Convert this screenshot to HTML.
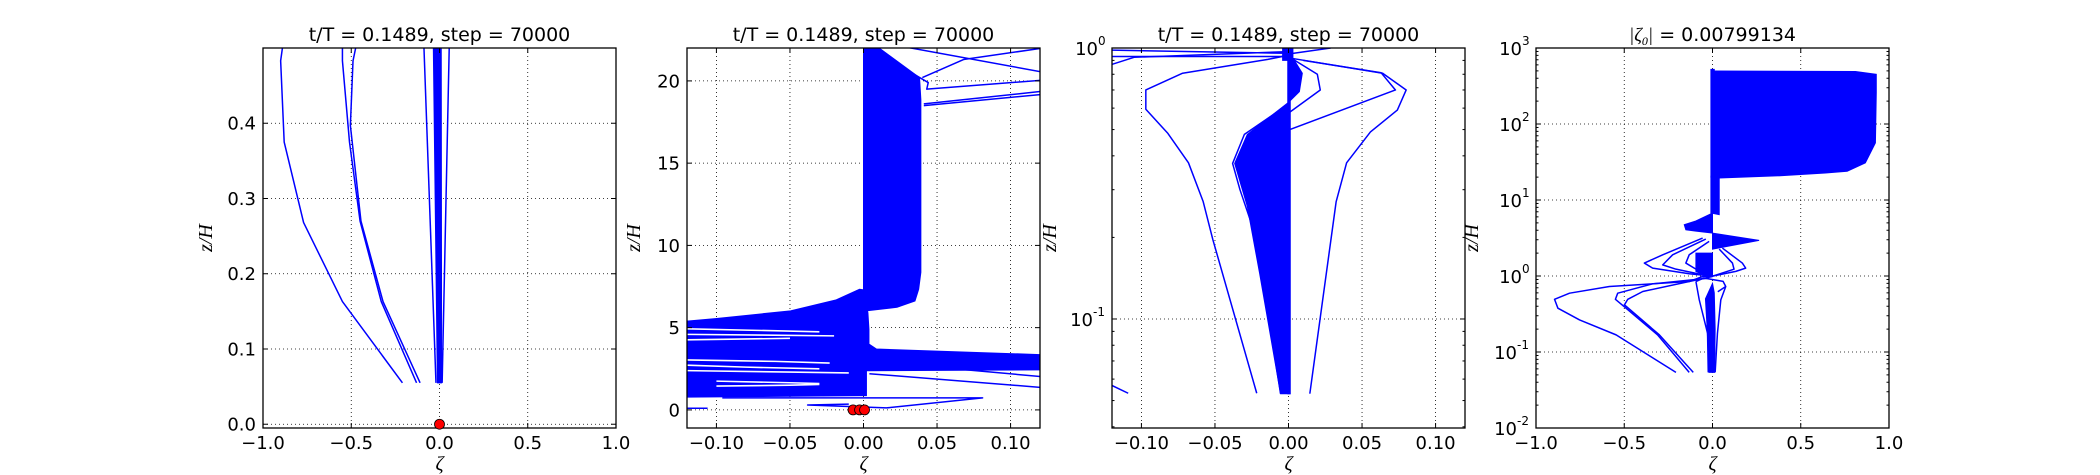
<!DOCTYPE html>
<html><head><meta charset="utf-8"><style>
html,body{margin:0;padding:0;background:#fff;}
svg{display:block;}
text{font-family:"DejaVu Sans","Liberation Sans",sans-serif;fill:#000;}
.ser{font-family:"Liberation Serif","DejaVu Serif",serif;font-style:italic;}
</style></head><body>
<svg id="fig" width="2100" height="475" viewBox="0 0 2100 475" xmlns="http://www.w3.org/2000/svg">
<rect x="0" y="0" width="2100" height="475" fill="#fff"/>
</svg>
<script>
// ---------- Panel 1 data (linear) ----------
const p1XTicks = [-1.0, -0.5, 0.0, 0.5, 1.0];
const p1XTickLabels = ["\u22121.0", "\u22120.5", "0.0", "0.5", "1.0"];
const p1YTicks = [0.0, 0.1, 0.2, 0.3, 0.4];
const p1YTickLabels = ["0.0", "0.1", "0.2", "0.3", "0.4"];
const p1LineA = [[-0.21,0.055],[-0.55,0.163],[-0.77,0.268],[-0.88,0.375],[-0.90,0.483],[-0.89,0.5]];
const p1LineB = [[-0.13,0.055],[-0.33,0.163],[-0.45,0.27],[-0.51,0.375],[-0.55,0.483],[-0.55,0.5]];
const p1LineC = [[-0.11,0.055],[-0.32,0.163],[-0.445,0.27],[-0.505,0.397],[-0.49,0.483],[-0.475,0.5]];
const p1LineD = [[-0.02,0.055],[-0.088,0.5]];
const p1LineE = [[0.015,0.055],[0.055,0.5]];
const p1Bundle = [[-0.012,0.055],[-0.035,0.5],[0.01,0.5],[0.012,0.055]];
const p1Dots = [[0.0,0.0]];

// ---------- Panel 2 data (linear) ----------
const p2XTicks = [-0.10, -0.05, 0.00, 0.05, 0.10];
const p2XTickLabels = ["\u22120.10", "\u22120.05", "0.00", "0.05", "0.10"];
const p2YTicks = [0, 5, 10, 15, 20];
const p2YTickLabels = ["0", "5", "10", "15", "20"];
const p2UpperBundle = [[0,22.5],[0.003,22.5],[0.0381,20.2],[0.039,18.85],[0.039,8.36],[0.0375,7.33],[0.035,6.62],[0.0228,6.24],[0.002,6.02],[0,7.3]];
const p2LowerMass = [[-0.13,5.31],[-0.0998,5.56],[-0.0496,6.02],[-0.0185,6.69],[-0.0027,7.33],[0,7.3],[0.003,5.9],[0.0037,4.9],[0.0037,4.0],[0.0088,3.7],[0.13,3.33],[0.13,2.44],[0.002,2.38],[0.002,0.87],[-0.13,0.77]];
const p2Gaps = [
 [[-0.13,4.95],[-0.08,4.85],[-0.03,4.75]],
 [[-0.13,4.6],[-0.07,4.55],[-0.02,4.5]],
 [[-0.13,4.25],[-0.09,4.3],[-0.05,4.35]],
 [[-0.13,3.05],[-0.06,2.95],[-0.023,2.85]],
 [[-0.13,2.75],[-0.08,2.6],[-0.03,2.5]],
 [[-0.13,2.4],[-0.05,2.3],[-0.01,2.25]],
 [[-0.10,1.75],[-0.05,1.65],[-0.03,1.6]],
 [[-0.10,1.45],[-0.05,1.5],[-0.03,1.55]]
];
const p2Lines = [
 [[0.02,22.2],[0.13,20.4]],
 [[0,22.2],[0.044,19.9],[0.043,19.5],[0.13,20.1]],
 [[0.13,22.1],[0.068,21.3],[0.04,20.2]],
 [[0.041,18.6],[0.13,19.45]],
 [[0.041,18.5],[0.13,19.25]],
 [[0.004,2.2],[0.13,1.3]],
 [[0.056,2.55],[0.13,1.95]],
 [[-0.096,0.73],[0.081,0.73],[0.0156,0.12],[-0.038,0.3],[-0.01,0.35]],
 [[-0.121,0.1],[-0.106,0.1]]
];
const p2Dots = [[-0.0071,0.0],[-0.0027,0.0],[0.0007,0.0]];

// ---------- Panel 3 data (log y) ----------
const p3XTicks = [-0.10, -0.05, 0.00, 0.05, 0.10];
const p3XTickLabels = ["\u22120.10", "\u22120.05", "0.00", "0.05", "0.10"];
const p3YTicks = [0.1, 1];
const p3YTickExp = ["-1", "0"];
const p3OuterLeft = [[-0.0216,0.0532],[-0.0514,0.196],[-0.058,0.271],[-0.068,0.377],[-0.082,0.484],[-0.097,0.594],[-0.097,0.70],[-0.072,0.807],[-0.014,0.908],[0,0.94]];
const p3OuterRight = [[0.0145,0.053],[0.0324,0.271],[0.0395,0.377],[0.0557,0.49],[0.074,0.59],[0.080,0.70],[0.064,0.807],[0,0.92]];
const p3Lines = [
 [[0.0009,0.50],[0.0727,0.70],[0.063,0.81],[0.01,0.9]],
 [[0.0009,0.58],[0.0216,0.70],[0.0196,0.80],[0,0.93]],
 [[-0.0054,0.053],[-0.022,0.2],[-0.033,0.30],[-0.038,0.375],[-0.030,0.48],[0,0.62]],
 [[-0.125,0.983],[0,0.956]],
 [[-0.125,0.853],[-0.105,0.924],[0,0.97]],
 [[-0.125,0.93],[0,0.93]],
 [[0,0.95],[0.0287,1.0]],
 [[-0.1205,0.057],[-0.109,0.0532]]
];
const p3Bundle = [[-0.0054,0.053],[-0.0196,0.147],[-0.028,0.26],[-0.0366,0.375],[-0.028,0.48],[0,0.63],[0.001,0.63],[0.001,0.053]];
const p3Wedge = [[0,0.63],[0.0074,0.69],[0.0094,0.807],[0.004,0.9],[0,0.95]];
const p3Column = [[-0.0005,0.053],[-0.0005,1],[0.0012,1],[0.0012,0.053]];
const p3TopBlock = [[-0.004,0.9],[-0.004,1],[0.003,1],[0.003,0.9]];

// ---------- Panel 4 data (log y) ----------
const p4XTicks = [-1.0, -0.5, 0.0, 0.5, 1.0];
const p4XTickLabels = ["\u22121.0", "\u22120.5", "0.0", "0.5", "1.0"];
const p4YTicks = [0.01, 0.1, 1, 10, 100, 1000];
const p4YTickExp = ["-2", "-1", "0", "1", "2", "3"];
const p4Lines = [
 [[-0.207,0.054],[-0.546,0.168],[-0.753,0.264],[-0.876,0.377],[-0.895,0.494],[-0.810,0.594],[-0.584,0.728],[-0.132,0.846],[-0.056,0.985],[0,0.995]],
 [[-0.132,0.054],[-0.311,0.168],[-0.490,0.377],[-0.550,0.494],[-0.537,0.594],[-0.339,0.789],[-0.019,0.936]],
 [[-0.109,0.054],[-0.301,0.168],[-0.499,0.417],[-0.480,0.494],[-0.395,0.625],[-0.132,0.846],[0,0.985]],
 [[-0.056,3.16],[-0.282,1.90],[-0.386,1.48],[-0.339,1.27],[-0.132,1.07],[0,0.995]],
 [[-0.038,3.06],[-0.226,1.90],[-0.282,1.40],[-0.207,1.23],[-0.056,1.04]],
 [[-0.019,2.85],[-0.132,1.90],[-0.151,1.48],[-0.094,1.23],[0,0.995]],
 [[0.056,2.33],[0.169,1.48],[0.188,1.27],[0.132,1.15],[0,0.995]],
 [[0.038,2.26],[0.113,1.48],[0.122,1.23],[0,0.995]],
 [[-0.094,0.846],[-0.075,0.485],[-0.028,0.176],[-0.024,0.054]],
 [[0.075,0.728],[0.047,0.485],[0.028,0.176],[0.015,0.054]],
 [[-0.094,0.846],[-0.05,0.94],[0.06,0.85],[0.075,0.728],[0.03,0.62]]
];
const p4Fills = [
 [[0,3.67],[0.264,2.94],[0,2.26]],
 [[0,6.74],[-0.094,5.3],[-0.160,4.73],[-0.151,4.06],[-0.094,3.9],[0,3.67]],
 [[-0.094,2.0],[-0.094,1.15],[-0.038,1.0],[0,1.0],[0,2.0]],
 [[-0.009,6.74],[-0.009,20.5],[0.038,20.5],[0.038,6.41]],
 [[-0.009,20],[-0.009,524],[0.01,524],[0.01,20]],
 [[0,498],[0.81,490],[0.928,450],[0.928,260],[0.923,56.5],[0.866,30.8],[0.763,23.9],[0.640,22.7],[0.395,20.9],[0.038,19.5],[0,19.5]],
 [[-0.04,0.5],[-0.03,0.2],[-0.02,0.054],[0.012,0.054],[0.015,0.2],[0.01,0.6],[0,0.8]]
];

const NS = "http://www.w3.org/2000/svg";
const svg = document.getElementById("fig");
function mk(tag, attrs, parent) {
  const e = document.createElementNS(NS, tag);
  for (const k in attrs) e.setAttribute(k, attrs[k]);
  (parent || svg).appendChild(e);
  return e;
}
const AW = 353, AT = 48, AB = 428;
const lefts = [263, 687, 1112, 1536];
const LW = 1.5;

function makePanel(i, xmin, xmax, ymin, ymax, logY) {
  const L = lefts[i], R = L + AW;
  const xs = v => L + (v - xmin) / (xmax - xmin) * AW;
  const ys = logY
    ? v => AB - (Math.log10(v) - Math.log10(ymin)) / (Math.log10(ymax) - Math.log10(ymin)) * (AB - AT)
    : v => AB - (v - ymin) / (ymax - ymin) * (AB - AT);
  const g = mk("g", {});
  
  
  const cp = mk("clipPath", {id: "clip" + i}, g);
  mk("rect", {x: L, y: AT, width: AW, height: AB - AT}, cp);
  const grid = mk("g", {}, g);
  
  
  const plot = mk("g", {"clip-path": "url(#clip" + i + ")"}, g);
  
  
  return {L, R, xs, ys, g, grid, plot};
}
function pts(P, arr) { return arr.map(p => P.xs(p[0]).toFixed(2) + "," + P.ys(p[1]).toFixed(2)).join(" "); }
function line(P, arr, name, color, w) {
  const e = mk("polyline", {points: pts(P, arr), fill: "none", stroke: color || "#0000ff", "stroke-width": w || LW, "stroke-linejoin": "round"}, P.plot);
  
  
}
function fill(P, arr, name) {
  const e = mk("polygon", {points: pts(P, arr), fill: "#0000ff", stroke: "#0000ff", "stroke-width": 1}, P.plot);
  
  
}
function dot(P, d, name) {
  const e = mk("circle", {cx: P.xs(d[0]), cy: P.ys(d[1]), r: 5, fill: "#ff0000", stroke: "#000", "stroke-width": 0.8}, P.g);
  
  
}
function frame(P) {
  const e = mk("rect", {x: P.L, y: AT, width: AW, height: AB - AT, fill: "none", stroke: "#000", "stroke-width": 1.3}, P.g);
  
  
}
function xAxis(P, ticks, labels) {
  ticks.forEach((t, k) => {
    const x = P.xs(t);
    const gl = mk("line", {x1: x, x2: x, y1: AT, y2: AB, stroke: "#000", "stroke-width": 0.8, "stroke-dasharray": "1,3"}, P.grid);
    
    
    mk("line", {x1: x, x2: x, y1: AB, y2: AB - 5, stroke: "#000", "stroke-width": 1}, P.g);
    mk("line", {x1: x, x2: x, y1: AT, y2: AT + 5, stroke: "#000", "stroke-width": 1}, P.g);
    const tx = mk("text", {x: x, y: 449, "text-anchor": "middle", "font-size": 18}, P.g);
    tx.textContent = labels[k];
    
    
  });
  const xl = mk("text", {x: (P.L + P.R) / 2, y: 470, "text-anchor": "middle", "font-size": 20, class: "ser"}, P.g);
  xl.textContent = "\u03b6";
  
  
}
function yAxisLin(P, ticks, labels) {
  ticks.forEach((t, k) => {
    const y = P.ys(t);
    const gl = mk("line", {x1: P.L, x2: P.R, y1: y, y2: y, stroke: "#000", "stroke-width": 0.8, "stroke-dasharray": "1,3"}, P.grid);
    
    
    mk("line", {x1: P.L, x2: P.L + 5, y1: y, y2: y, stroke: "#000", "stroke-width": 1}, P.g);
    mk("line", {x1: P.R, x2: P.R - 5, y1: y, y2: y, stroke: "#000", "stroke-width": 1}, P.g);
    const tx = mk("text", {x: P.L - 7, y: y + 6.5, "text-anchor": "end", "font-size": 18}, P.g);
    tx.textContent = labels[k];
    
    
  });
}
function yAxisLog(P, ticks, exps, dmin, dmax) {
  ticks.forEach((t, k) => {
    const y = P.ys(t);
    const gl = mk("line", {x1: P.L, x2: P.R, y1: y, y2: y, stroke: "#000", "stroke-width": 0.8, "stroke-dasharray": "1,3"}, P.grid);
    
    
    mk("line", {x1: P.L, x2: P.L + 5, y1: y, y2: y, stroke: "#000", "stroke-width": 1}, P.g);
    mk("line", {x1: P.R, x2: P.R - 5, y1: y, y2: y, stroke: "#000", "stroke-width": 1}, P.g);
    const ew = exps[k].length > 1 ? 13 : 8;
    const tx = mk("text", {x: P.L - 6 - ew, y: y + 7, "text-anchor": "end", "font-size": 18}, P.g);
    tx.textContent = "10";
    
    
    const sx = mk("text", {x: P.L - 6 - ew, y: y - 3, "text-anchor": "start", "font-size": 12}, P.g);
    sx.textContent = exps[k];
    
    
  });
  for (let d = dmin; d <= dmax; d++) {
    for (let m = 2; m <= 9; m++) {
      const v = m * Math.pow(10, d);
      const y = P.ys(v);
      if (y < AT || y > AB) continue;
      mk("line", {x1: P.L, x2: P.L + 2.5, y1: y, y2: y, stroke: "#000", "stroke-width": 1}, P.g);
      mk("line", {x1: P.R, x2: P.R - 2.5, y1: y, y2: y, stroke: "#000", "stroke-width": 1}, P.g);
    }
  }
}
function yTitle(P, x) {
  const t = mk("text", {x: x, y: 238, "text-anchor": "middle", "font-size": 20, class: "ser", transform: "rotate(-90 " + x + " 238)"}, P.g);
  t.textContent = "z/H";
  
  
}
function title(P, txt) {
  const t = mk("text", {x: (P.L + P.R) / 2, y: 41, "text-anchor": "middle", "font-size": 19}, P.g);
  t.textContent = txt;
  
  
  return t;
}

// Panel 1
const P1 = makePanel(0, -1, 1, -0.005, 0.5, false);
xAxis(P1, p1XTicks, p1XTickLabels); yAxisLin(P1, p1YTicks, p1YTickLabels);
fill(P1, p1Bundle, 'central-bundle');
[p1LineA, p1LineB, p1LineC, p1LineD, p1LineE].forEach((l, k) => line(P1, l, 'profile-line-' + (k + 1)));
frame(P1); p1Dots.forEach(d => dot(P1, d, 'surface-marker'));
title(P1, "t/T = 0.1489, step = 70000"); yTitle(P1, 212);

// Panel 2
const P2 = makePanel(1, -0.12, 0.12, -1.1, 22, false);
xAxis(P2, p2XTicks, p2XTickLabels); yAxisLin(P2, p2YTicks, p2YTickLabels);
fill(P2, p2UpperBundle, 'upper-bundle');
fill(P2, p2LowerMass, 'lower-mass');
p2Gaps.forEach(gp => line(P2, gp, 'bundle-gap', "#ffffff", 1.6));
p2Lines.forEach((l, k) => line(P2, l, 'profile-line-' + (k + 1)));
frame(P2); p2Dots.forEach(d => dot(P2, d, 'surface-marker'));
title(P2, "t/T = 0.1489, step = 70000"); yTitle(P2, 640);

// Panel 3
const P3 = makePanel(2, -0.12, 0.12, 0.0396, 1, true);
xAxis(P3, p3XTicks, p3XTickLabels); yAxisLog(P3, p3YTicks, p3YTickExp, -2, 0);
fill(P3, p3Bundle, 'lower-bundle'); fill(P3, p3Wedge, 'upper-wedge'); fill(P3, p3Column, 'zero-column'); fill(P3, p3TopBlock, 'top-block');
line(P3, p3OuterLeft, 'outer-left-profile'); line(P3, p3OuterRight, 'outer-right-profile');
p3Lines.forEach((l, k) => line(P3, l, 'profile-line-' + (k + 1)));
frame(P3);
title(P3, "t/T = 0.1489, step = 70000"); yTitle(P3, 1056);

// Panel 4
const P4 = makePanel(3, -1, 1, 0.01, 1000, true);
xAxis(P4, p4XTicks, p4XTickLabels); yAxisLog(P4, p4YTicks, p4YTickExp, -2, 2);
p4Fills.forEach((f, k) => fill(P4, f, 'profile-band-' + (k + 1)));
p4Lines.forEach((l, k) => line(P4, l, 'profile-line-' + (k + 1)));
frame(P4);
const t4 = mk("text", {x: (P4.L + P4.R) / 2, y: 41, "text-anchor": "middle", "font-size": 19}, P4.g);


t4.innerHTML = '<tspan class="ser">|\u03b6</tspan><tspan font-size="12" dy="4" class="ser">0</tspan><tspan dy="-4" class="ser">|</tspan><tspan> = 0.00799134</tspan>';
yTitle(P4, 1478);
</script>
</body></html>
